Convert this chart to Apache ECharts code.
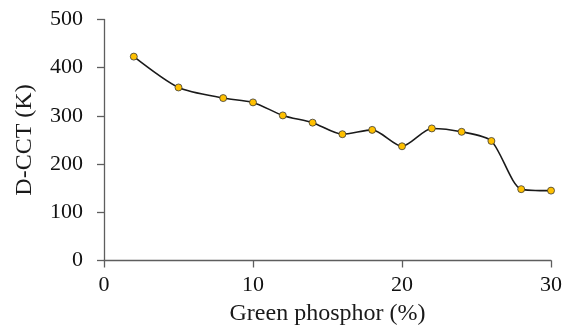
<!DOCTYPE html>
<html><head><meta charset="utf-8">
<script src="https://cdn.jsdelivr.net/npm/echarts@6/dist/echarts.min.js"></script>
<style>html,body{margin:0;padding:0;background:#fff}#c{width:571px;height:331px}</style>
</head><body><div id="c"></div>
<script>
var xValues = [2, 5, 8, 10, 12, 14, 16, 18, 20, 22, 24, 26, 28, 30];
var dcct = [423, 359, 337, 328, 301, 286, 262, 271, 237, 274, 267, 248, 148, 145];
var xTicks = [0, 10, 20, 30];
var yTicks = [0, 100, 200, 300, 400, 500];

var font = '"Liberation Serif", "Times New Roman", serif';
var chart = echarts.init(document.getElementById('c'), null, {renderer: 'canvas'});
chart.setOption({
  animation: false,
  backgroundColor: '#ffffff',
  grid: {left: 104, right: 20, top: 19.5, bottom: 70.5, containLabel: false},
  xAxis: {
    type: 'value', min: xTicks[0], max: xTicks[xTicks.length - 1], interval: 10,
    name: 'Green phosphor (%)', nameLocation: 'middle', nameGap: 37,
    nameTextStyle: {fontFamily: font, fontSize: 24, color: '#1a1a1a'},
    axisLine: {show: true, onZero: false, lineStyle: {color: '#5e5e5e', width: 1.3}},
    axisTick: {show: true, inside: false, length: 7, lineStyle: {color: '#5e5e5e', width: 1.3}},
    axisLabel: {fontFamily: font, fontSize: 22, color: '#111', margin: 14},
    splitLine: {show: false}
  },
  yAxis: {
    type: 'value', min: yTicks[0], max: yTicks[yTicks.length - 1], interval: 100,
    name: 'D-CCT (K)', nameLocation: 'middle', nameGap: 67,
    nameTextStyle: {fontFamily: font, fontSize: 24, color: '#1a1a1a'},
    axisLine: {show: true, onZero: false, lineStyle: {color: '#5e5e5e', width: 1.3}},
    axisTick: {show: true, inside: false, length: 7, lineStyle: {color: '#5e5e5e', width: 1.3}},
    axisLabel: {fontFamily: font, fontSize: 22, color: '#111', margin: 21},
    splitLine: {show: false}
  },
  series: [{
    type: 'line',
    data: xValues.map(function (x, i) { return [x, dcct[i]]; }),
    smooth: 0.25,
    lineStyle: {color: '#1a1a1a', width: 1.6},
    symbol: 'circle', symbolSize: 7,
    itemStyle: {color: '#FFC000', borderColor: '#3a3a3a', borderWidth: 0.8}
  }]
});
</script></body></html>
